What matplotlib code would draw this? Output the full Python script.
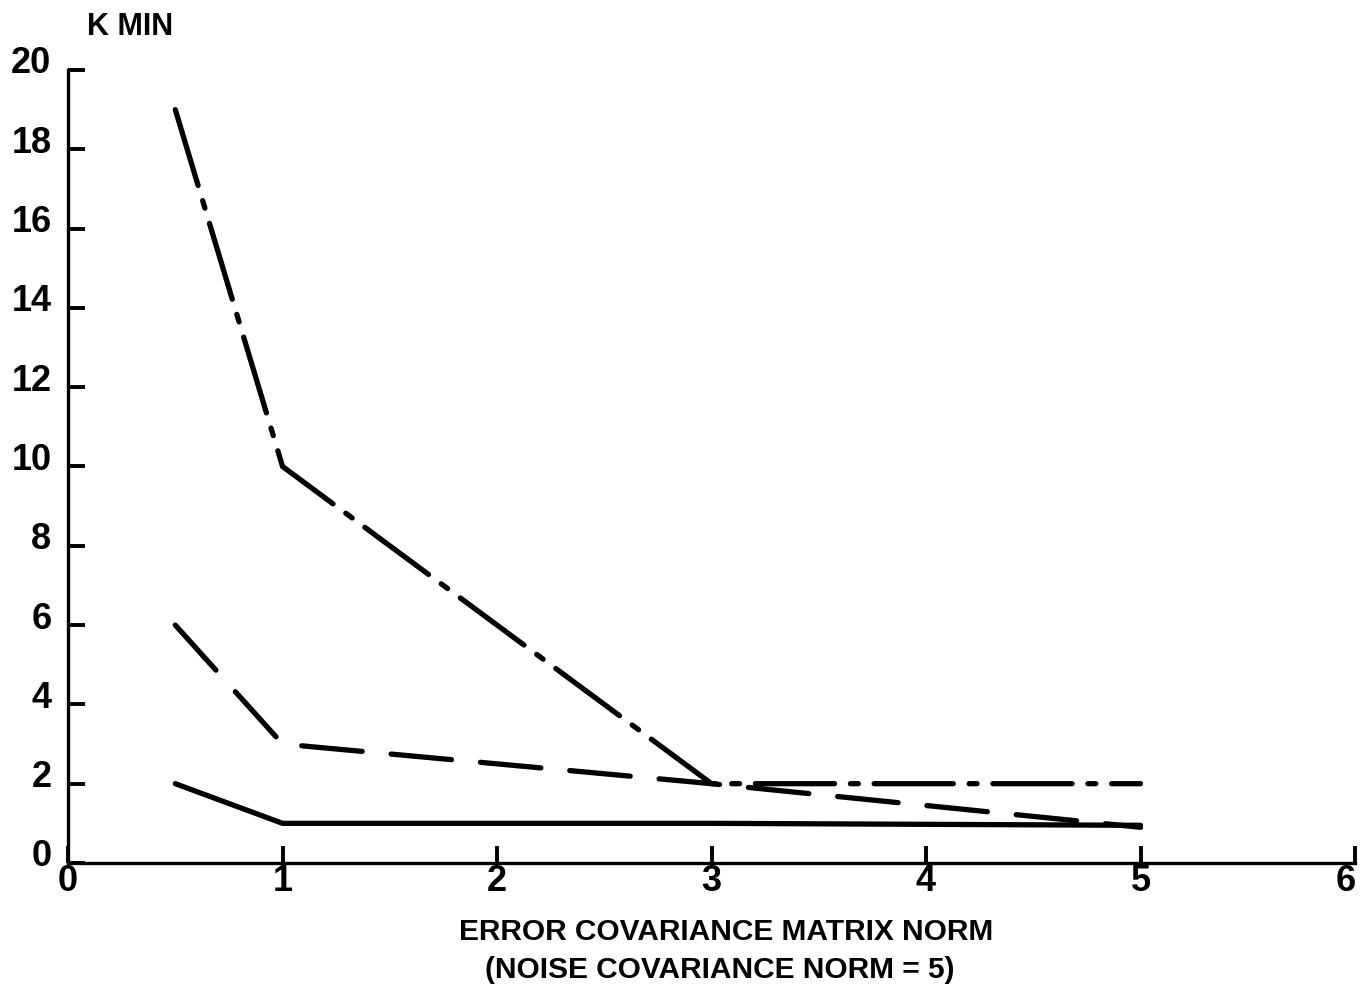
import matplotlib.pyplot as plt
import matplotlib.transforms as mtransforms

# data
x_solid = [0.5, 1, 3, 5]
k_solid = [2, 1, 1, 0.95]

x_dash = [0.5, 1, 3, 5]
k_dash = [6, 3, 2, 0.9]

x_dashdot = [0.5, 1, 3, 5]
k_dashdot = [19, 10, 2, 2]

x_ticks = [0, 1, 2, 3, 4, 5, 6]
y_ticks = [0, 2, 4, 6, 8, 10, 12, 14, 16, 18, 20]

FONT = ['Liberation Sans', 'DejaVu Sans']
plt.rcParams['font.family'] = FONT
plt.rcParams['font.weight'] = 'bold'

fig = plt.figure(figsize=(13.61, 9.90), dpi=100)
ax = fig.add_axes([0.050, 0.1283, 0.9456, 0.801])

lw = 3.8
ax.plot(x_solid, k_solid, color='black', linewidth=lw, solid_capstyle='round',
        solid_joinstyle='round')
ax.plot(x_dash, k_dash, color='black', linewidth=lw, dashes=(11.5, 5.5),
        dash_capstyle='round', dash_joinstyle='round')
ax.plot(x_dashdot, k_dashdot, color='black', linewidth=lw, dashes=(15, 3.0, 1.5, 3.0),
        dash_capstyle='round', dash_joinstyle='round')

ax.set_xlim(0, 6)
ax.set_ylim(0, 20)
ax.spines['top'].set_visible(False)
ax.spines['right'].set_visible(False)
ax.spines['left'].set_linewidth(2.4)
ax.spines['bottom'].set_linewidth(2.4)

ax.set_xticks(x_ticks)
ax.set_yticks(y_ticks)
ax.set_xticklabels([str(v) for v in x_ticks], fontsize=26, fontweight='bold')
ax.set_yticklabels([str(v) for v in y_ticks], fontsize=26, fontweight='bold')
ax.tick_params(axis='both', direction='in', length=12, width=2.8, colors='black')
ax.tick_params(axis='y', pad=12)
ax.tick_params(axis='x', pad=1)

# y labels sit slightly above their ticks in the original
for lab in ax.get_yticklabels():
    lab.set_transform(lab.get_transform() +
                      mtransforms.ScaledTranslation(0, 10 / 100, fig.dpi_scale_trans))
# keep the last x label inside the figure
last = ax.get_xticklabels()[-1]
last.set_transform(last.get_transform() +
                   mtransforms.ScaledTranslation(-9 / 100, 0, fig.dpi_scale_trans))

fig.text(130 / 1361, 1 - 27 / 990, 'K MIN', fontsize=22, fontweight='bold',
         ha='center', va='center')
fig.text(726 / 1361, 1 - 932 / 990, 'ERROR COVARIANCE MATRIX NORM', fontsize=21.5,
         fontweight='bold', ha='center', va='center')
fig.text(720 / 1361, 1 - 970 / 990, '(NOISE COVARIANCE NORM = 5)', fontsize=21.5,
         fontweight='bold', ha='center', va='center')

fig.savefig('out.png', dpi=100)
